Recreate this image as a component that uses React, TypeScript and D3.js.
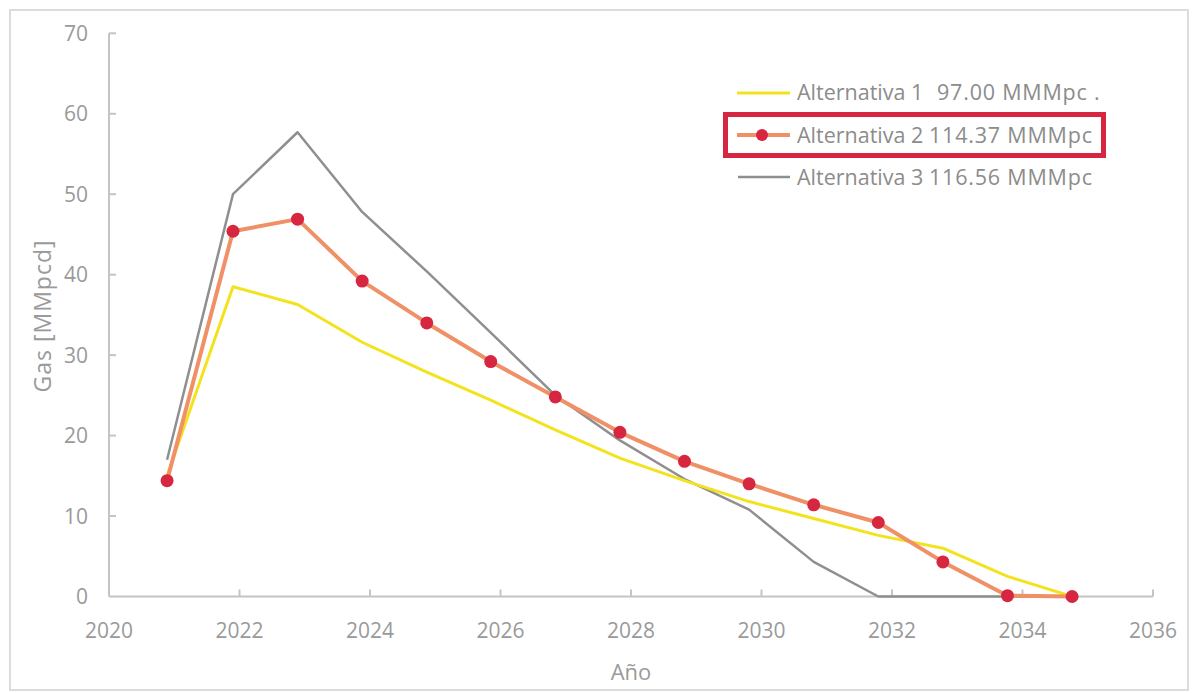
import React from "react";
import * as d3 from "d3";

// Production forecast (MMpcd) per alternative, by fractional year
const years = [2020.89, 2021.9, 2022.89, 2023.88, 2024.87, 2025.85, 2026.84, 2027.83, 2028.82, 2029.81, 2030.8, 2031.79, 2032.78, 2033.77, 2034.76];
const alt1 = [15.0, 38.5, 36.3, 31.6, 27.9, 24.4, 20.7, 17.2, 14.4, 11.8, 9.7, 7.6, 6.0, 2.5, 0];
const alt2 = [14.4, 45.4, 46.9, 39.2, 34.0, 29.2, 24.8, 20.4, 16.8, 14.0, 11.4, 9.2, 4.3, 0.1, 0];
const alt3 = [17.0, 50.0, 57.7, 47.8, 40.4, 32.8, 25.0, 19.4, 14.6, 10.8, 4.3, 0, 0, 0, 0];

const xTicks = [2020, 2022, 2024, 2026, 2028, 2030, 2032, 2034, 2036];
const yTicks = [0, 10, 20, 30, 40, 50, 60, 70];

const legendNames = ["Alternativa 1", "Alternativa 2", "Alternativa 3"];
const legendTotals = ["97.00 MMMpc .", "114.37 MMMpc", "116.56 MMMpc"];

const W = 1194;
const H = 693;
const FONT = "'Open Sans', sans-serif";

const YELLOW = "#f3e31f";
const ORANGE = "#ef9066";
const RED = "#d72640";
const GRAY = "#8f8f8f";
const AXIS = "#c4c4c4";
const LABEL = "#9a9a9a";

export default function App() {
  const x = d3.scaleLinear().domain([2020, 2036]).range([109, 1153]);
  const y = d3.scaleLinear().domain([0, 70]).range([596.5, 33.3]);

  const line = d3
    .line<number>()
    .x((_, i) => x(years[i]))
    .y((v) => y(v));

  const x0 = x(2020);
  const y0 = y(0);

  return (
    <svg
      width={W}
      height={H}
      viewBox={`0 0 ${W} ${H}`}
      style={{ position: "absolute", left: 0, top: 0, background: "#fff" }}
      fontFamily={FONT}
    >
      <rect x={0} y={0} width={W} height={H} fill="#fff" />
      <rect x={10} y={10} width={1178} height={680} fill="none" stroke="#dcdcdc" strokeWidth={2} />

      {/* axes */}
      <line x1={x0} x2={x0} y1={y(70)} y2={y0} stroke={AXIS} strokeWidth={2} />
      <line x1={x0} x2={x(2036)} y1={y0} y2={y0} stroke={AXIS} strokeWidth={2} />
      {yTicks.map((t) => (
        <g key={`y${t}`}>
          {t > 0 && <line x1={x0} x2={x0 + 7} y1={y(t)} y2={y(t)} stroke={AXIS} strokeWidth={2} />}
          <text x={88} y={y(t)} dy="0.36em" textAnchor="end" fontSize={21} fill={LABEL}>
            {t}
          </text>
        </g>
      ))}
      {xTicks.map((t) => (
        <g key={`x${t}`}>
          {t > 2020 && <line x1={x(t)} x2={x(t)} y1={y0} y2={y0 - 7} stroke={AXIS} strokeWidth={2} />}
          <text x={x(t)} y={638} textAnchor="middle" fontSize={21} fill={LABEL}>
            {t}
          </text>
        </g>
      ))}

      <text
        transform={`translate(51, 316) rotate(-90)`}
        textAnchor="middle"
        fontSize={23}
        letterSpacing={1}
        fill={LABEL}
      >
        Gas [MMpcd]
      </text>
      <text x={631} y={680} textAnchor="middle" fontSize={22} fill={LABEL}>
        Año
      </text>

      {/* series */}
      <path d={line(alt3) ?? ""} fill="none" stroke={GRAY} strokeWidth={2.5} strokeLinejoin="round" />
      <path d={line(alt1) ?? ""} fill="none" stroke={YELLOW} strokeWidth={3} strokeLinejoin="round" />
      <path d={line(alt2) ?? ""} fill="none" stroke={ORANGE} strokeWidth={4} strokeLinejoin="round" />
      {alt2.map((v, i) => (
        <circle key={i} cx={x(years[i])} cy={y(v)} r={6.5} fill={RED} />
      ))}

      {/* legend */}
      <line x1={737} x2={790} y1={93} y2={93} stroke={YELLOW} strokeWidth={3} />
      <line x1={737} x2={790} y1={135} y2={135} stroke={ORANGE} strokeWidth={4} />
      <circle cx={762} cy={135} r={6} fill={RED} />
      <line x1={738} x2={790} y1={177} y2={177} stroke={GRAY} strokeWidth={2.5} />
      {legendNames.map((n, i) => (
        <g key={n}>
          <text x={797} y={100 + i * 42.5} fontSize={21.5} fill="#8c8c8c">
            {n}
          </text>
          <text x={i === 0 ? 937 : 929} y={100 + i * 42.5} fontSize={21.5} letterSpacing={0.8} fill="#8c8c8c">
            {legendTotals[i]}
          </text>
        </g>
      ))}
      <rect x={725.5} y={114.5} width={378} height={41} fill="none" stroke={RED} strokeWidth={5} />
    </svg>
  );
}
